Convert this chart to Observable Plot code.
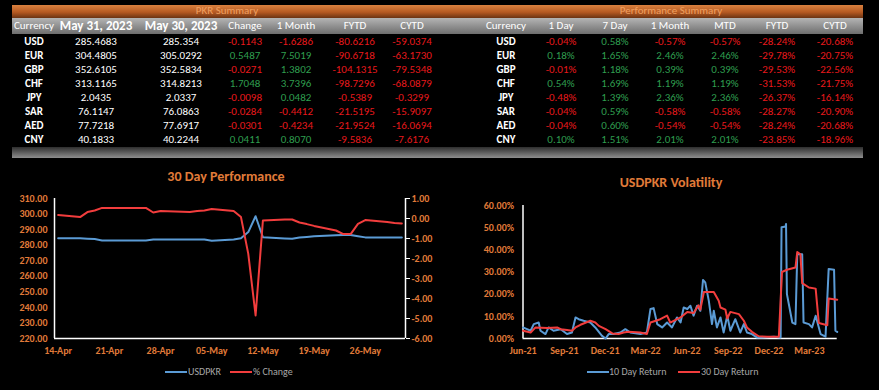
<!DOCTYPE html>
<html><head><meta charset="utf-8">
<script src="https://cdn.jsdelivr.net/npm/d3@7"></script>
<script src="https://cdn.jsdelivr.net/npm/@observablehq/plot@0.6"></script>
<style>
body{margin:0;background:#000;width:879px;height:390px;overflow:hidden;position:relative;font-family:Carlito,Lato,"Open Sans",sans-serif;}
.abs{position:absolute;}
.cell{position:absolute;width:140px;text-align:center;font-size:11px;line-height:14px;white-space:nowrap;color:#fff;}
.bar{position:absolute;left:12px;width:851px;}
.title{position:absolute;width:300px;text-align:center;font-weight:bold;font-size:14px;color:#e07b39;line-height:16px;}
.leg{position:absolute;font-size:10px;color:#a6a6a6;line-height:12px;white-space:nowrap;}
.sw{position:absolute;height:2px;}
</style></head><body>
<div id="root"></div>
<script>
// ---------- table data ----------
const currencies = ["USD","EUR","GBP","CHF","JPY","SAR","AED","CNY"];
const rateMay31 = ["285.4683","304.4805","352.6105","313.1165","2.0435","76.1147","77.7218","40.1833"];
const rateMay30 = ["285.354","305.0292","352.5834","314.8213","2.0337","76.0863","77.6917","40.2244"];
const change = [-0.1143, 0.5487, -0.0271, 1.7048, -0.0098, -0.0284, -0.0301, 0.0411];
const oneMonth = [-1.6286, 7.5019, 1.3802, 3.7396, 0.0482, -0.4412, -0.4234, 0.8070];
const fytd = [-80.6216, -90.6718, -104.1315, -98.7296, -0.5389, -21.5195, -21.9524, -9.5836];
const cytd = [-59.0374, -63.1730, -79.5348, -68.0879, -0.3299, -15.9097, -16.0694, -7.6176];

const perf1Day = [-0.04, 0.18, -0.01, 0.54, -0.48, -0.04, -0.04, 0.10];
const perf7Day = [0.58, 1.65, 1.18, 1.69, 1.39, 0.59, 0.60, 1.51];
const perf1Month = [-0.57, 2.46, 0.39, 1.19, 2.36, -0.58, -0.54, 2.01];
const perfMTD = [-0.57, 2.46, 0.39, 1.19, 2.36, -0.58, -0.54, 2.01];
const perfFYTD = [-28.24, -29.78, -29.53, -31.53, -26.37, -28.27, -28.24, -23.85];
const perfCYTD = [-20.68, -20.75, -22.56, -21.75, -16.14, -20.90, -20.68, -18.96];

// ---------- 30 day performance ----------
const perfDates = ["2023-04-14","2023-04-17","2023-04-18","2023-04-19","2023-04-20","2023-04-26","2023-04-27","2023-04-28",
 "2023-05-02","2023-05-03","2023-05-04","2023-05-05","2023-05-08","2023-05-09","2023-05-10","2023-05-11","2023-05-12",
 "2023-05-15","2023-05-16","2023-05-17","2023-05-18","2023-05-19","2023-05-22","2023-05-23","2023-05-24","2023-05-25",
 "2023-05-26","2023-05-29","2023-05-30","2023-05-31"];
const usdpkr = [284.5,284.5,284.2,283.9,283.0,283.0,283.6,283.6,
 283.6,283.6,283.6,282.8,283.6,284.5,288.4,298.6,285.1,
 284.3,284.1,284.9,285.3,285.8,286.4,286.6,286.6,285.8,
 285.0,285.0,285.0,285.0];
const pctChange = [0.18,0.07,0.32,0.40,0.53,0.53,0.30,0.37,
 0.33,0.38,0.40,0.47,0.37,0.07,-1.77,-4.85,-0.10,
 -0.05,-0.05,-0.20,-0.28,-0.37,-0.60,-0.78,-0.78,-0.27,
 -0.08,-0.18,-0.22,-0.25];
const perfTicks = ["2023-04-14","2023-04-21","2023-04-28","2023-05-05","2023-05-12","2023-05-19","2023-05-26"];

// ---------- volatility ----------
const vol10Dates = ["2021-06-01","2021-06-10","2021-06-18","2021-06-25","2021-07-06","2021-07-10","2021-07-21","2021-07-28",
 "2021-08-08","2021-08-24","2021-09-07","2021-09-18","2021-09-26","2021-10-03","2021-10-14","2021-10-29","2021-11-09",
 "2021-11-24","2021-12-02","2021-12-09","2021-12-20","2022-01-04","2022-01-15","2022-01-26","2022-02-18","2022-03-04",
 "2022-03-12","2022-03-19","2022-03-27","2022-04-07","2022-04-18","2022-04-29","2022-05-10","2022-05-18","2022-05-25",
 "2022-06-02","2022-06-09","2022-06-16","2022-06-24","2022-07-01","2022-07-07","2022-07-12","2022-07-20","2022-07-27",
 "2022-07-31","2022-08-07","2022-08-15","2022-08-22","2022-08-30","2022-09-06","2022-09-17","2022-09-28","2022-10-06",
 "2022-10-13","2022-10-24","2022-11-04","2022-11-16","2022-12-12","2022-12-27","2022-12-29","2023-01-07","2023-01-08",
 "2023-01-10","2023-01-22","2023-01-29","2023-02-02","2023-02-13","2023-02-16","2023-02-28","2023-03-07","2023-03-15",
 "2023-03-26","2023-04-06","2023-04-13","2023-04-25","2023-04-28","2023-05-02"];
const vol10 = [5,4.2,3.5,6.5,7.2,3.5,2,5,
 3.5,4.2,2,2.7,9.5,8.7,8,7.2,5,
 1.2,0,2,2,2.7,4.2,2.7,2,2.7,
 13.3,13.7,6.5,5,7.2,5,9.5,7.2,14,
 13.3,14.8,10.3,14.8,12.5,26.4,25.3,17,6.5,
 12.5,5,9.5,2.7,10.3,3.5,8.7,2.7,6.5,
 2.7,2,0.5,0.5,0.8,0.5,50.2,50.5,51.7,
 20,7.2,6.5,38,38,7.2,6.5,5,10.3,
 2,0.8,31.4,31,3.5,3];
const vol30Dates = ["2021-06-01","2021-06-18","2021-06-29","2021-07-25","2021-08-16","2021-08-24","2021-09-07","2021-09-18",
 "2021-09-26","2021-10-07","2021-10-29","2021-11-09","2021-11-17","2021-12-02","2021-12-17","2021-12-31","2022-01-11",
 "2022-01-22","2022-02-17","2022-03-04","2022-03-12","2022-04-03","2022-04-18","2022-04-25","2022-05-18","2022-06-02",
 "2022-06-16","2022-06-27","2022-07-01","2022-07-09","2022-07-31","2022-08-11","2022-08-15","2022-08-26","2022-08-30",
 "2022-09-06","2022-09-25","2022-10-06","2022-10-13","2022-10-24","2022-11-08","2022-11-27","2022-12-23","2022-12-30",
 "2023-01-10","2023-01-29","2023-02-02","2023-02-09","2023-02-13","2023-02-28","2023-03-15","2023-03-22","2023-04-10",
 "2023-04-13","2023-05-02"];
const vol30 = [3.5,2.7,5.0,4.7,5.0,4.2,3.8,3.5,
 5.0,6.2,8.0,7.2,5.7,4.2,2.3,2.0,2.7,
 3.0,2.7,2.0,7.2,8.7,10.3,7.2,9.5,12,
 11.5,15,13,21,21,17,14,13,9,
 12,11,8,5,3,1,0.8,0.8,30,
 31,32,39,38,25,23,22.5,7,6,
 18,17.5];
const volTicks = ["2021-06-01","2021-09-01","2021-12-01","2022-03-01","2022-06-01","2022-09-01","2022-12-01","2023-03-01"];

// ---------- build tables ----------
const root = document.getElementById("root");
function el(cls, css, text){ const d=document.createElement("div"); d.className=cls; Object.assign(d.style, css); if(text!=null) d.textContent=text; root.appendChild(d); return d; }
const RED="#e8191c", GREEN="#2f9e4f";
el("bar",{top:"5px",height:"13px",background:"linear-gradient(to bottom,#d9813f,#b65a22 55%,#6b3313)"});
el("bar",{top:"18px",height:"16px",background:"linear-gradient(to bottom,#b4b4b4,#8a8a8a 60%,#6e6e6e)"});
el("bar",{top:"147px",height:"11px",background:"linear-gradient(to bottom,#2e2e2e,#8e8e8e)"});
el("cell",{left:(227-70)+"px",top:"4px",color:"#f0a060",fontSize:"11px",lineHeight:"14px"},"PKR Summary");
el("cell",{left:(671-70)+"px",top:"4px",color:"#f0a060",fontSize:"11px",lineHeight:"14px"},"Performance Summary");

const leftCols = [34,96,181,245,296,355,412];
const leftHead = ["Currency","May 31, 2023","May 30, 2023","Change","1 Month","FYTD","CYTD"];
const rightCols = [506,561,615,670,725,777,835];
const rightHead = ["Currency","1 Day","7 Day","1 Month","MTD","FYTD","CYTD"];
leftHead.forEach((h,i)=>el("cell",{left:(leftCols[i]-70)+"px",top:"19px",fontWeight:(i===1||i===2)?"bold":"normal",fontSize:(i===1||i===2)?"13px":"11px"},h));
rightHead.forEach((h,i)=>el("cell",{left:(rightCols[i]-70)+"px",top:"19px"},h));
const col = v => v < 0 ? RED : GREEN;
currencies.forEach((c,r)=>{
  const top = (34.5 + 14*r) + "px";
  el("cell",{left:(leftCols[0]-70)+"px",top,fontWeight:"bold"},c);
  el("cell",{left:(leftCols[1]-70)+"px",top},rateMay31[r]);
  el("cell",{left:(leftCols[2]-70)+"px",top},rateMay30[r]);
  [change,oneMonth,fytd,cytd].forEach((arr,k)=>el("cell",{left:(leftCols[3+k]-70)+"px",top,color:col(arr[r])},arr[r].toFixed(4)));
  el("cell",{left:(rightCols[0]-70)+"px",top,fontWeight:"bold"},c);
  [perf1Day,perf7Day,perf1Month,perfMTD,perfFYTD,perfCYTD].forEach((arr,k)=>el("cell",{left:(rightCols[1+k]-70)+"px",top,color:col(arr[r])},arr[r].toFixed(2)+"%"));
});

// ---------- titles & legends ----------
el("title",{left:(226-150)+"px",top:"169px"},"30 Day Performance");
el("title",{left:(671-150)+"px",top:"175px"},"USDPKR Volatility");
const BLUE="#5b9bd5", LRED="#f23d3d";
el("sw",{left:"165px",top:"371px",width:"22px",background:BLUE});
el("leg",{left:"188px",top:"366px"},"USDPKR");
el("sw",{left:"230px",top:"371px",width:"22px",background:LRED});
el("leg",{left:"253px",top:"366px"},"% Change");
el("sw",{left:"587px",top:"371px",width:"22px",background:BLUE});
el("leg",{left:"609px",top:"366px"},"10 Day Return");
el("sw",{left:"678px",top:"371px",width:"22px",background:LRED});
el("leg",{left:"701px",top:"366px"},"30 Day Return");

// ---------- left chart ----------
const ORANGE="#e07b39";
const FONT='Carlito, Lato, "Open Sans", sans-serif';
const lo=220, hi=310, rlo=-6, rhi=1;
const toLeft = v => lo + (v - rlo)*(hi-lo)/(rhi-rlo);
const fromLeft = v => { const r=Math.round(((v-lo)*(rhi-rlo)/(hi-lo)+rlo)*100)/100; return (r===0?0:r).toFixed(2); };
const perf = perfDates.map((d,i)=>({date:new Date(d+"T00:00Z"), usd:usdpkr[i], pct:pctChange[i]}));
const x0 = new Date("2023-04-13T12:00Z"), x1 = new Date("2023-05-31T12:00Z");
const chart1 = Plot.plot({
  width:440, height:175, marginTop:13, marginBottom:22, marginLeft:54, marginRight:35,
  style:{background:"black", color:ORANGE, fontSize:"10px", fontFamily:FONT, fontWeight:"bold"},
  x:{type:"utc", domain:[x0,x1], label:null},
  y:{domain:[lo,hi], label:null},
  marks:[
    Plot.axisY({ticks:d3.range(220,311,10), tickFormat:d=>d.toFixed(2), tickSize:0, tickPadding:7, fill:ORANGE, label:null}),
    Plot.axisY({anchor:"right", ticks:d3.range(-6,1.01,1).map(toLeft), tickFormat:fromLeft, tickSize:4, tickPadding:2, stroke:"white", fill:ORANGE, label:null}),
    Plot.axisX({ticks:perfTicks.map(d=>new Date(d+"T00:00Z")), tickFormat:d3.utcFormat("%d-%b"), tickSize:0, tickPadding:8, fill:ORANGE, label:null}),
    Plot.ruleX([x0],{stroke:"white",strokeWidth:1.5}),
    Plot.ruleX([x1],{stroke:"white",strokeWidth:1.5}),
    Plot.ruleY([lo],{stroke:"white",strokeWidth:1.5}),
    Plot.line(perf,{x:"date",y:"usd",stroke:BLUE,strokeWidth:2}),
    Plot.line(perf,{x:"date",y:d=>toLeft(d.pct),stroke:LRED,strokeWidth:2})
  ]
});
const c1 = el("abs",{left:"0px",top:"185px",width:"440px"}); c1.appendChild(chart1);

// ---------- right chart ----------
const v10 = vol10Dates.map((d,i)=>({date:new Date(d+"T00:00Z"), v:vol10[i]/100}));
const v30 = vol30Dates.map((d,i)=>({date:new Date(d+"T00:00Z"), v:vol30[i]/100}));
const vx0 = new Date("2021-06-01T00:00Z"), vx1 = new Date("2023-05-02T00:00Z");
const chart2 = Plot.plot({
  width:439, height:170, marginTop:15, marginBottom:22, marginLeft:82.5, marginRight:42.3,
  style:{background:"black", color:ORANGE, fontSize:"10px", fontFamily:FONT, fontWeight:"bold"},
  x:{type:"utc", domain:[vx0,vx1], label:null},
  y:{domain:[0,0.6], label:null},
  marks:[
    Plot.axisY({ticks:d3.range(0,0.61,0.1), tickFormat:d3.format(".2%"), tickSize:0, tickPadding:9, fill:ORANGE, label:null}),
    Plot.axisX({ticks:volTicks.map(d=>new Date(d+"T00:00Z")), tickFormat:d3.utcFormat("%b-%y"), tickSize:0, tickPadding:8, fill:ORANGE, label:null}),
    Plot.ruleX([vx0],{stroke:"white",strokeWidth:1.5}),
    Plot.ruleY([0],{stroke:"white",strokeWidth:1.5}),
    Plot.line(v10,{x:"date",y:"v",stroke:BLUE,strokeWidth:2}),
    Plot.line(v30,{x:"date",y:"v",stroke:LRED,strokeWidth:2})
  ]
});
const c2 = el("abs",{left:"440px",top:"190px",width:"439px"}); c2.appendChild(chart2);
</script></body></html>
